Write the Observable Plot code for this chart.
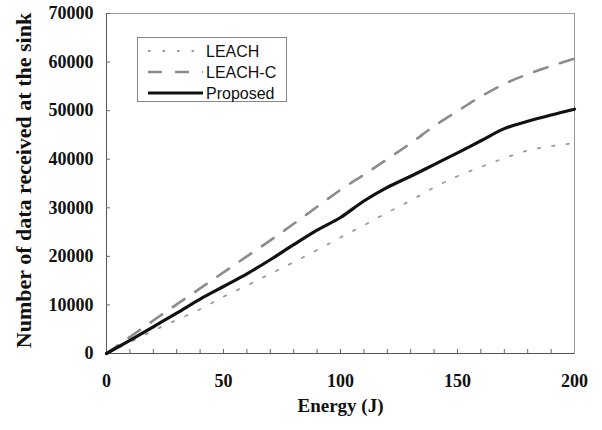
<!DOCTYPE html>
<html><head><meta charset="utf-8">
<script src="https://cdn.jsdelivr.net/npm/d3@7"></script>
<script src="https://cdn.jsdelivr.net/npm/@observablehq/plot@0.6"></script>
<style>body{margin:0;background:#fff}</style>
</head><body><div id="chart"></div>
<script>
const energy   = [0, 10, 20, 30, 40, 50, 60, 70, 80, 90, 100, 110, 120, 130, 140, 150, 160, 170, 180, 190, 200];
const leach    = [0, 2300, 4700, 6900, 9100, 11700, 14000, 16400, 18800, 21300, 23900, 26400, 29000, 31500, 34200, 36500, 38400, 40200, 41800, 42700, 43300];
const leachC   = [0, 3400, 6800, 10100, 13400, 16700, 20000, 23300, 26700, 30200, 33700, 36800, 40000, 43300, 46800, 49900, 52900, 55500, 57500, 59200, 60700];
const proposed = [0, 2700, 5500, 8300, 11200, 13800, 16400, 19300, 22400, 25400, 28000, 31400, 34200, 36500, 38900, 41300, 43800, 46300, 47800, 49100, 50300];
const seriesNames = ["LEACH", "LEACH-C", "Proposed"];
const xTicks = [0, 50, 100, 150, 200];
const xMinorTicks = [10, 20, 30, 40, 50, 60, 70, 80, 90, 100, 110, 120, 130, 140, 150, 160, 170, 180, 190];
const yTicks = [0, 10000, 20000, 30000, 40000, 50000, 60000, 70000];
const xLabel = "Energy (J)";
const yLabel = "Number of data received at the sink";

const seriesValues = {"LEACH": leach, "LEACH-C": leachC, "Proposed": proposed};
const rows = seriesNames.flatMap(s => energy.map((e, i) => ({series: s, energy: e, value: seriesValues[s][i]})));
const styles = {
  "LEACH":    {stroke: "#9c9c9c", width: 1.8, dash: "2.5,12"},
  "LEACH-C":  {stroke: "#8c8c8c", width: 2.6, dash: "14,13"},
  "Proposed": {stroke: "#111111", width: 3.2, dash: null}
};

const serif = "'Liberation Serif','Times New Roman',serif";
const plot = Plot.plot({
  width: 602, height: 430,
  marginLeft: 106, marginRight: 28, marginTop: 13, marginBottom: 77,
  x: {domain: [0, 200]},
  y: {domain: [0, 70000]},
  style: {fontFamily: serif, background: "#fff", color: "#111"},
  marks: [
    Plot.frame({stroke: "#999"}),
    Plot.ruleX([0], {stroke: "#555"}),
    Plot.ruleY([0], {stroke: "#555"}),
    Plot.tickY(yTicks, {y: d => d, stroke: "#666", insetRight: 468 - 4}),
    Plot.tickX(xMinorTicks, {x: d => d, stroke: "#666", insetTop: 340 - 4}),
    ...seriesNames.map(n => Plot.line(rows.filter(r => r.series === n), {
      x: "energy", y: "value", stroke: styles[n].stroke, strokeWidth: styles[n].width,
      strokeDasharray: styles[n].dash, curve: "monotone-x"
    })),
    Plot.axisX(xTicks, {tickSize: 0, tickPadding: 21, fontSize: 18, fontWeight: "bold", label: null, tickFormat: d => String(d)}),
    Plot.axisY(yTicks, {tickSize: 0, tickPadding: 13, fontSize: 18, fontWeight: "bold", label: null, tickFormat: d => String(d)}),
    Plot.text([yLabel], {frameAnchor: "left", dx: -83, dy: -3, rotate: -90, textAnchor: "middle", fontSize: 22, fontWeight: "bold", text: d => d}),
    Plot.text([xLabel], {frameAnchor: "bottom", dy: 58, textAnchor: "middle", fontSize: 19, fontWeight: "bold", text: d => d})
  ]
});
document.getElementById("chart").appendChild(plot);

// legend
const svg = d3.select(plot);
const lg = svg.append("g");
lg.append("rect").attr("x", 137.5).attr("y", 37.5).attr("width", 149).attr("height", 64)
  .attr("fill", "#fff").attr("stroke", "#888").attr("stroke-width", 1);
const ly = [51, 72, 93];
seriesNames.forEach((n, i) => {
  lg.append("line").attr("x1", 148).attr("x2", 203).attr("y1", ly[i]).attr("y2", ly[i])
    .attr("stroke", styles[n].stroke).attr("stroke-width", styles[n].width)
    .attr("stroke-dasharray", styles[n].dash);
  lg.append("text").attr("x", 206).attr("y", ly[i]).attr("dy", "0.35em")
    .attr("text-anchor", "start")
    .attr("font-family", "'Liberation Sans',Arial,sans-serif").attr("font-size", 16)
    .attr("fill", "#111").text(n);
});
</script>
</body></html>
